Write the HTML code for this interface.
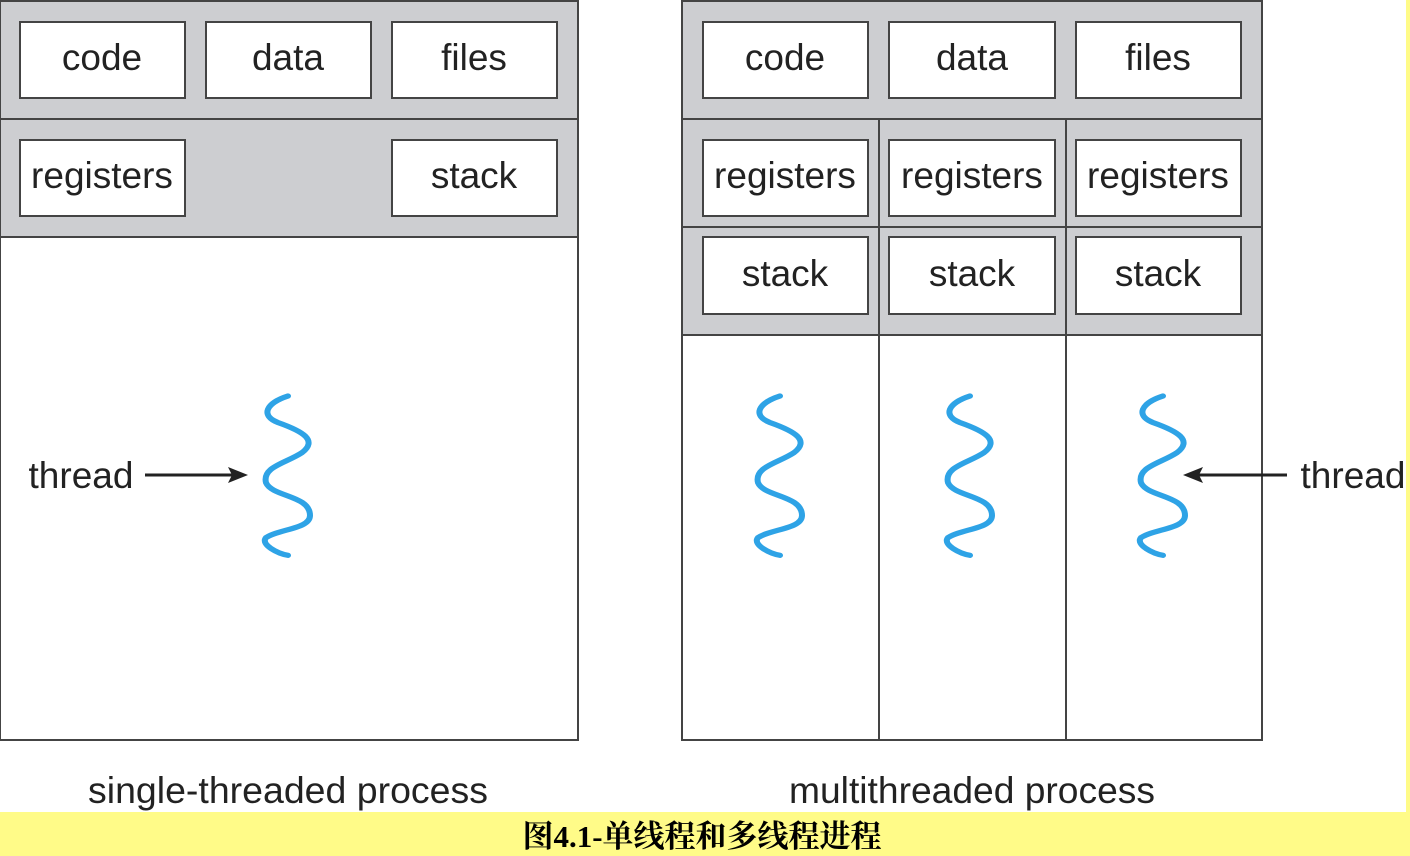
<!DOCTYPE html>
<html><head><meta charset="utf-8"><style>
html,body{margin:0;padding:0;background:#fff;}
svg{display:block}
</style></head><body>
<svg width="1410" height="856" viewBox="0 0 1410 856" xmlns="http://www.w3.org/2000/svg">
<defs>
<path id="sq" d="M0,0 C-22,8 -28,22 -10,30 C15,40 30,50 14,64 C-2,76 -26,80 -22,98 C-16,114 22,112 22,135 C22,150 -8,150 -22,160 C-28,168 -10,178 0,180" fill="none"/>
</defs>
<rect x="0" y="0" width="1410" height="856" fill="#fff"/>
<g stroke="#444" stroke-width="2" fill="#222">
<rect x="0" y="1" width="578" height="236" fill="#cdced1"/>
<rect x="0" y="237" width="578" height="503" fill="#fff"/>
<line x1="0" y1="119" x2="578" y2="119"/>
<g fill="#fff">
<rect x="20" y="22" width="165" height="76"/><rect x="206" y="22" width="165" height="76"/><rect x="392" y="22" width="165" height="76"/>
<rect x="20" y="140" width="165" height="76"/><rect x="392" y="140" width="165" height="76"/>
</g>
<rect x="682" y="1" width="580" height="334" fill="#cdced1"/>
<rect x="682" y="335" width="580" height="405" fill="#fff"/>
<line x1="682" y1="119" x2="1262" y2="119"/>
<line x1="682" y1="227" x2="1262" y2="227"/>
<line x1="879" y1="119" x2="879" y2="740"/>
<line x1="1066" y1="119" x2="1066" y2="740"/>
<g fill="#fff">
<rect x="703" y="22" width="165" height="76"/><rect x="889" y="22" width="166" height="76"/><rect x="1076" y="22" width="165" height="76"/>
<rect x="703" y="140" width="165" height="76"/><rect x="889" y="140" width="166" height="76"/><rect x="1076" y="140" width="165" height="76"/>
<rect x="703" y="237" width="165" height="77"/><rect x="889" y="237" width="166" height="77"/><rect x="1076" y="237" width="165" height="77"/>
</g>
<line x1="145" y1="475" x2="235" y2="475" stroke="#222" stroke-width="3"/>
<polygon points="248,475 228,467 232,475 228,483" fill="#222" stroke="none"/>
<line x1="1287" y1="475" x2="1196" y2="475" stroke="#222" stroke-width="3"/>
<polygon points="1183,475 1203,467 1199,475 1203,483" fill="#222" stroke="none"/>
</g>
<g stroke="#2ea3e6" stroke-width="6" stroke-linecap="round" fill="none">
<use href="#sq" transform="translate(288,396) scale(1,0.885)"/>
<use href="#sq" transform="translate(780,396) scale(1,0.885)"/>
<use href="#sq" transform="translate(970,396) scale(1,0.885)"/>
<use href="#sq" transform="translate(1163,396) scale(1,0.885)"/>
</g>
<g font-family="Liberation Sans, sans-serif" font-size="37" fill="#222" text-anchor="middle">
<text x="102" y="70">code</text><text x="288" y="70">data</text><text x="474" y="70">files</text>
<text x="102" y="188">registers</text><text x="474" y="188">stack</text>
<text x="785" y="70">code</text><text x="972" y="70">data</text><text x="1158" y="70">files</text>
<text x="785" y="188">registers</text><text x="972" y="188">registers</text><text x="1158" y="188">registers</text>
<text x="785" y="286">stack</text><text x="972" y="286">stack</text><text x="1158" y="286">stack</text>
<text x="288" y="803" textLength="400" lengthAdjust="spacingAndGlyphs">single-threaded process</text>
<text x="972" y="803" textLength="366" lengthAdjust="spacingAndGlyphs">multithreaded process</text>
<text x="81" y="488">thread</text>
<text x="1353" y="488">thread</text>
</g>
<rect x="0" y="812" width="1410" height="44" fill="#fffb88"/>
<rect x="1406" y="0" width="4" height="856" fill="#fffb88"/>
<text x="702" y="847" text-anchor="middle" font-family="Liberation Serif, Noto Serif CJK SC, serif" font-weight="bold" font-size="31" fill="#000">图4.1-单线程和多线程进程</text>
</svg>
</body></html>
